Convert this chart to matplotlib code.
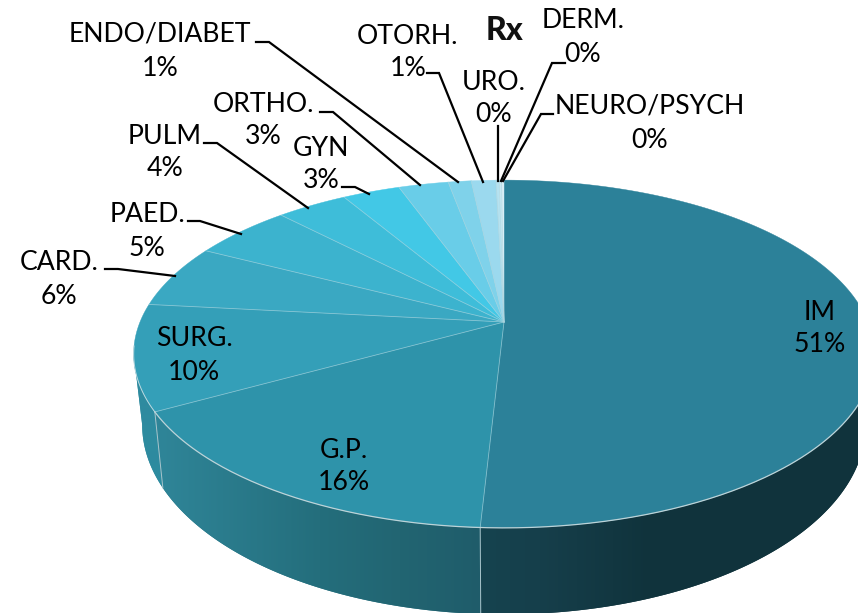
import numpy as np
import matplotlib
matplotlib.use("Agg")
import matplotlib.pyplot as plt
from matplotlib.patches import Polygon
from matplotlib.colors import to_rgb

# ---- data -----------------------------------------------------------------
specialties = ["IM", "G.P.", "SURG.", "CARD.", "PAED.", "PULM", "GYN", "ORTHO.",
               "ENDO/DIABET", "OTORH.", "URO.", "DERM.", "NEURO/PSYCH"]
shares = [50.85, 16.05, 9.8, 5.9, 5.2, 3.7, 3.0, 2.6, 1.2, 1.28, 0.17, 0.12, 0.13]
title = "Rx"

# ---- styles ---------------------------------------------------------------
top_colors = ["#2c8199", "#2e93aa", "#349fb8", "#3aa8c2", "#3cb3ce", "#3ebdd9",
              "#42c8e6", "#69cde8", "#7fd2ea", "#9bd9ee", "#b5e2f0", "#c9e9f3", "#d8eef6"]
wall_ramps = {
    0: ([481, 540, 650, 858], ["#15434f", "#163f4b", "#10333c", "#11343d"]),
    1: ([160, 320, 400, 481], ["#2f8598", "#246e7c", "#226572", "#1f5c6a"]),
    2: ([135, 165], ["#2f8ba0", "#2d8b9f"]),
}
# label anchors: (x, y first line, y second line)
label_pos = {
    "IM": (820, 312, 345), "G.P.": (344, 450, 483), "SURG.": (194, 339, 372),
    "CARD.": (59, 263, 296), "PAED.": (147, 215, 248), "PULM": (165, 137, 169),
    "GYN": (321, 149, 181), "ORTHO.": (263, 105, 137), "ENDO/DIABET": (160, 34, 68),
    "OTORH.": (408, 37, 69), "URO.": (494, 82, 114), "DERM.": (583, 21, 54),
    "NEURO/PSYCH": (650, 106, 140),
}
leaders = {
    "CARD.": [(105, 269), (118, 269), (175, 276)],
    "PAED.": [(188, 221), (200, 221), (241, 234)],
    "PULM": [(204, 143), (217, 143), (308, 208)],
    "GYN": [(342, 187), (355, 187), (369, 194)],
    "ORTHO.": [(320, 112), (333, 112), (420, 185)],
    "ENDO/DIABET": [(256, 42), (269, 42), (458, 182)],
    "OTORH.": [(427, 73), (439, 73), (483, 182)],
    "URO.": [(498, 126), (498, 181)],
    "DERM.": [(565, 63), (552, 63), (501, 181)],
    "NEURO/PSYCH": [(553, 114), (541, 114), (503, 181)],
}

CX, CY, BX, AY, K = 504, 322, 364, 168, 0.184


def top(theta):
    """Perspective projection of the pie's top disc; theta clockwise from 12 o'clock."""
    u, v = np.sin(theta), np.cos(theta)
    d = 1 + K * v
    return CX + BX * u / d, CY - AY * v / d


def bottom(theta):
    x, y = top(theta)
    dy = y - CY
    return CX + (x - CX) * 0.977, y + 68 + 0.09 * np.maximum(dy, 0)


def ramp_strip(i):
    xs, cs = wall_ramps[i]
    rgb = np.array([to_rgb(c) for c in cs])
    grid = np.arange(858) + 0.5
    return np.stack([np.interp(grid, xs, rgb[:, k]) for k in range(3)], axis=1)[None, :, :]


plt.rcParams["font.family"] = ["Lato", "DejaVu Sans"]
fig = plt.figure(figsize=(8.58, 6.13), dpi=100)
ax = fig.add_axes([0, 0, 1, 1])
ax.set_xlim(0, 858)
ax.set_ylim(613, 0)
ax.axis("off")

edges = 2 * np.pi * np.concatenate([[0], np.cumsum(shares)]) / sum(shares)

# visible part of the wall lies between the rim's rightmost and leftmost points
probe = np.linspace(0, 2 * np.pi, 3601)
px_probe, _ = top(probe)
theta_right, theta_left = probe[np.argmax(px_probe)], probe[np.argmin(px_probe)]

# side walls with a horizontal gradient
for i in wall_ramps:
    lo, hi = max(edges[i], theta_right), min(edges[i + 1], theta_left)
    ts = np.linspace(lo, hi, 160)
    xt, yt = top(ts)
    xb, yb = bottom(ts)
    pts = list(zip(xt, yt)) + list(zip(xb[::-1], yb[::-1]))
    base = ramp_strip(i)
    mid_c = base[0, int(np.clip(np.median(xt), 0, 857))]
    ax.add_patch(Polygon(pts, closed=True, facecolor=mid_c, edgecolor="none", zorder=2))
    im = ax.imshow(base, extent=(0, 858, 613, 0), aspect="auto", zorder=2.1,
                   interpolation="bilinear")
    im.set_clip_path(Polygon(pts, closed=True, transform=ax.transData))
ax.set_xlim(0, 858)
ax.set_ylim(613, 0)

# top faces
for i in range(len(shares)):
    ts = np.linspace(edges[i], edges[i + 1], max(3, int((edges[i + 1] - edges[i]) * 120)))
    xs, ys = top(ts)
    pts = [(CX, CY)] + list(zip(xs, ys))
    ax.add_patch(Polygon(pts, closed=True, facecolor=top_colors[i],
                         edgecolor=top_colors[i], linewidth=0.3, zorder=3))

# seams
for e in edges[1:-1]:
    x, y = top(e)
    ax.plot([CX, x], [CY, y], color="#a9d3dd", lw=0.6, alpha=0.65, zorder=4)
for e in edges[1:3]:
    x, y = top(e); x2, y2 = bottom(e)
    ax.plot([x, x2], [y, y2], color="#a8c4cb", lw=0.7, zorder=4)
ts = np.linspace(np.pi * 0.64, edges[2], 200)
xs, ys = top(ts)
ax.plot(xs, ys, color="#bcd3d8", lw=0.9, zorder=4)
ts = np.linspace(edges[2], np.radians(262), 40)
xs, ys = top(ts)
ax.plot(xs, ys, color="#bcd9e0", lw=0.7, zorder=4)

# labels
fs = 19.2
for name, value in zip(specialties, shares):
    x, y1, y2 = label_pos[name]
    ax.text(x, y1, name, ha="center", va="center", fontsize=fs, color="#000000", zorder=6)
    ax.text(x, y2, f"{round(value):d}%", ha="center", va="center", fontsize=fs,
            color="#000000", zorder=6)
    if name in leaders:
        px, py = zip(*leaders[name])
        ax.plot(px, py, color="black", lw=1.6, solid_joinstyle="miter", zorder=5)

ax.text(504, 30, title, ha="center", va="center", fontsize=23, fontweight=900,
        color="#111111", zorder=6)

fig.savefig("out.png", dpi=100, facecolor="white")
